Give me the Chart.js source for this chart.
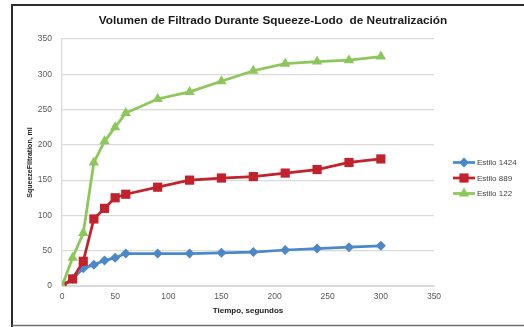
<!DOCTYPE html>
<html>
<head>
<meta charset="utf-8">
<script src="https://cdn.jsdelivr.net/npm/chart.js@4/dist/chart.umd.min.js"></script>
<style>
  html, body { margin: 0; padding: 0; background: #ffffff; }
  #wrap { width: 524px; height: 327px; }
</style>
</head>
<body>
<div id="wrap"><canvas id="chart" width="524" height="327"></canvas></div>
<script>
// Filtrate volume during the squeeze, per mud style
const chartTitle = 'Volumen de Filtrado Durante Squeeze-Lodo  de Neutralización';
const xAxisTitle = 'Tiempo, segundos';
const yAxisTitle = 'SqueezeFiltration, ml';
const seriesNames = ['Estilo 1424', 'Estilo 889', 'Estilo 122'];

const tiempo     = [0, 10, 20, 30, 40, 50, 60, 90, 120, 150, 180, 210, 240, 270, 300];
const estilo1424 = [0, 10, 25, 30, 36, 40, 46, 46, 46, 47, 48, 51, 53, 55, 57];
const estilo889  = [0, 10, 35, 95, 110, 125, 130, 140, 150, 153, 155, 160, 165, 175, 180];
const estilo122  = [0, 40, 75, 175, 205, 225, 245, 265, 275, 290, 305, 315, 318, 320, 325];

const xTicks = [0, 50, 100, 150, 200, 250, 300, 350];
const yTicks = [0, 50, 100, 150, 200, 250, 300, 350];

const toPoints = (ys) => tiempo.map((t, i) => ({ x: t, y: ys[i] }));

const tickFont = { family: 'Liberation Sans', size: 8.5 };
const tickColor = '#595959';
const gridColor = '#d9d9d9';

// White sheet with the dark frame around the chart
const framePlugin = {
  id: 'frame',
  beforeDraw(chart) {
    const ctx = chart.ctx;
    ctx.save();
    ctx.fillStyle = '#ffffff';
    ctx.fillRect(0, 0, chart.width, chart.height);
    ctx.strokeStyle = '#2b2b2b';
    ctx.lineWidth = 2;
    ctx.beginPath();
    ctx.moveTo(12, chart.height);
    ctx.lineTo(12, 5);
    ctx.lineTo(chart.width, 5);
    ctx.stroke();
    ctx.strokeStyle = '#6e6e6e';
    ctx.lineWidth = 1.5;
    ctx.beginPath();
    ctx.moveTo(12, chart.height - 1.5);
    ctx.lineTo(chart.width, chart.height - 1.5);
    ctx.stroke();
    ctx.restore();
  }
};

// Legend on the right: a short line with the series marker in its middle
const lineLegendPlugin = {
  id: 'lineLegend',
  afterDraw(chart) {
    const ctx = chart.ctx;
    const area = chart.chartArea;
    const x0 = area.right + 19;
    const len = 22;
    const rowH = 15.5;
    const yStart = 162.5;
    ctx.save();
    chart.data.datasets.forEach((ds, i) => {
      const y = yStart + i * rowH;
      ctx.strokeStyle = ds.borderColor;
      ctx.lineWidth = ds.borderWidth;
      ctx.beginPath();
      ctx.moveTo(x0, y);
      ctx.lineTo(x0 + len, y);
      ctx.stroke();
      ctx.fillStyle = ds.pointBackgroundColor;
      ctx.strokeStyle = ds.pointBorderColor;
      Chart.helpers.drawPoint(ctx, {
        pointStyle: ds.pointStyle,
        radius: ds.pointRadius,
        rotation: 0,
        borderWidth: 0
      }, x0 + len / 2, y);
      ctx.fillStyle = '#404040';
      ctx.font = '8px "Liberation Sans"';
      ctx.textAlign = 'left';
      ctx.textBaseline = 'middle';
      ctx.fillText(ds.label, x0 + len + 2, y + 0.5);
    });
    ctx.restore();
  }
};

const makeSeries = (label, values, color, style, radius, order) => ({
  label,
  data: toPoints(values),
  showLine: true,
  borderColor: color,
  backgroundColor: color,
  borderWidth: 2.75,
  pointStyle: style,
  pointRadius: radius,
  pointHoverRadius: radius,
  pointBackgroundColor: color,
  pointBorderColor: color,
  pointBorderWidth: 0,
  tension: 0,
  order
});

new Chart(document.getElementById('chart'), {
  type: 'scatter',
  data: {
    datasets: [
      makeSeries(seriesNames[0], estilo1424, '#4a88c9', 'rectRot', 5, 3),
      makeSeries(seriesNames[1], estilo889, '#c1222b', 'rect', 6.5, 2),
      makeSeries(seriesNames[2], estilo122, '#8cc75a', 'triangle', 6, 1)
    ]
  },
  options: {
    responsive: false,
    animation: false,
    devicePixelRatio: 1,
    layout: { padding: { top: 5, left: 22, right: 0, bottom: 5 } },
    plugins: {
      legend: { display: false },
      tooltip: { enabled: false },
      title: {
        display: true,
        text: chartTitle,
        color: '#1a1a1a',
        font: { family: 'Liberation Sans', size: 11.8, weight: 'bold', lineHeight: 1.2 },
        padding: { top: 9, bottom: 10.8 }
      }
    },
    scales: {
      x: {
        type: 'linear',
        min: 0,
        max: 350,
        afterBuildTicks: (s) => { s.ticks = xTicks.map((v) => ({ value: v })); },
        afterFit: (s) => { s.height = 36; },
        grid: { display: false, drawTicks: false },
        border: { display: true, color: gridColor, width: 1 },
        ticks: { color: tickColor, font: tickFont, padding: 6, maxRotation: 0 },
        title: {
          display: true,
          text: xAxisTitle,
          color: '#1a1a1a',
          font: { family: 'Liberation Sans', size: 8, weight: 'bold', lineHeight: 1.2 },
          padding: { top: 0, bottom: 6 }
        }
      },
      y: {
        type: 'linear',
        min: 0,
        max: 350,
        afterBuildTicks: (s) => { s.ticks = yTicks.map((v) => ({ value: v })); },
        afterFit: (s) => { s.width = 40; },
        grid: { color: gridColor, lineWidth: 1.25, drawTicks: false },
        border: { display: true, color: gridColor, width: 1.25 },
        ticks: { color: tickColor, font: tickFont, padding: 10 },
        title: {
          display: true,
          text: yAxisTitle,
          color: '#1a1a1a',
          font: { family: 'Liberation Sans', size: 7, weight: 'bold', lineHeight: 1.2 },
          padding: { top: 4, bottom: 0 }
        }
      },
      legendSpace: {
        type: 'linear',
        position: 'right',
        display: true,
        afterFit: (s) => { s.width = 90; },
        grid: { display: false, drawTicks: false },
        border: { display: false },
        ticks: { display: false }
      }
    }
  },
  plugins: [framePlugin, lineLegendPlugin]
});
</script>
</body>
</html>
